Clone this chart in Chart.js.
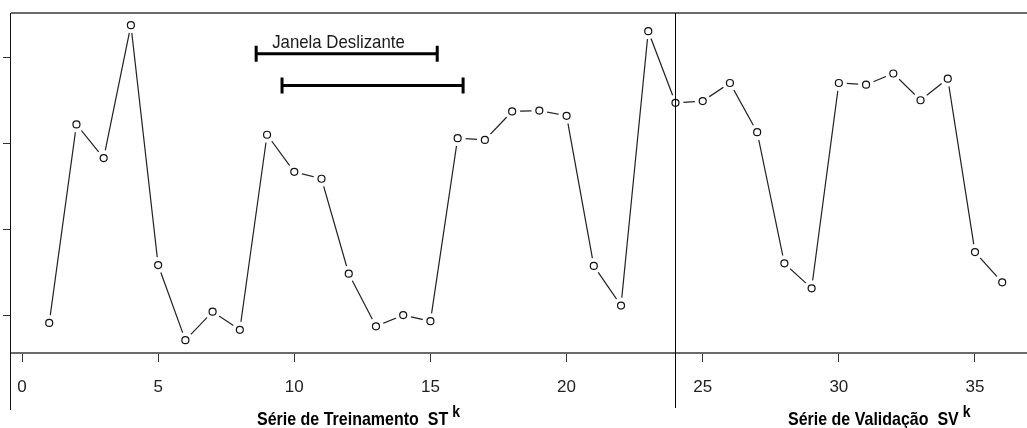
<!DOCTYPE html>
<html>
<head>
<meta charset="utf-8">
<script src="https://cdn.jsdelivr.net/npm/chart.js@4.4.0/dist/chart.umd.min.js"></script>
<style>
html,body{margin:0;padding:0;background:#fff;}
#wrap{width:1027px;height:428px;position:relative;}
canvas{display:block;}
</style>
</head>
<body>
<div id="wrap"><canvas id="c" width="1027" height="428"></canvas></div>
<script>
// ---- data ----
const indices = [1,2,3,4,5,6,7,8,9,10,11,12,13,14,15,16,17,18,19,20,21,22,23,24,25,26,27,28,29,30,31,32,33,34,35,36];
const values = [0.92,3.22,2.83,4.37,1.59,0.72,1.05,0.84,3.10,2.67,2.59,1.49,0.88,1.01,0.94,3.06,3.04,3.37,3.38,3.32,1.58,1.12,4.30,3.47,3.49,3.70,3.13,1.61,1.32,3.70,3.68,3.81,3.50,3.75,1.74,1.39];
const xTickValues = [0,5,10,15,20,25,30,35];
const yTickValues = [1,2,3,4];
const splitIndex = 24;
const windowStarts = [8.6, 9.55];
const windowEnds = [15.25, 16.2];
const windowLevels = [4.04, 3.67];
const windowLabel = 'Janela Deslizante';
const trainTitle = 'Série de Treinamento  ST';
const validTitle = 'Série de Validação  SV';
const supText = 'k';

const pts = indices.map((x,i)=>({x:x, y:values[i]}));

const deco = {
  id:'deco',
  afterDatasetsDraw(chart){
    const {ctx, chartArea:a, scales:{x,y}} = chart;
    ctx.save();
    // top border
    ctx.strokeStyle='#6a6a6a'; ctx.lineWidth=2;
    ctx.beginPath(); ctx.moveTo(a.left, a.top); ctx.lineTo(a.right, a.top); ctx.stroke();
    // left axis line extended below
    ctx.strokeStyle='#111'; ctx.lineWidth=1;
    ctx.beginPath(); ctx.moveTo(a.left-0.5, a.top); ctx.lineTo(a.left-0.5, 410); ctx.stroke();
    // split line
    const sx = Math.round(x.getPixelForValue(splitIndex))+0.5;
    ctx.strokeStyle='#000'; ctx.lineWidth=1;
    ctx.beginPath(); ctx.moveTo(sx, a.top); ctx.lineTo(sx, 408); ctx.stroke();
    // sliding windows
    ctx.strokeStyle='#000'; ctx.lineWidth=3; ctx.lineCap='butt';
    windowStarts.forEach((s,i)=>{
      const x1=x.getPixelForValue(s), x2=x.getPixelForValue(windowEnds[i]);
      const yy=y.getPixelForValue(windowLevels[i]);
      ctx.beginPath();
      ctx.moveTo(x1,yy); ctx.lineTo(x2,yy);
      ctx.moveTo(x1,yy-8); ctx.lineTo(x1,yy+8);
      ctx.moveTo(x2,yy-8); ctx.lineTo(x2,yy+8);
      ctx.stroke();
    });
    // window label
    const lx = x.getPixelForValue(windowStarts[0]) + 16;
    const ly = y.getPixelForValue(windowLevels[0]) - 6;
    ctx.fillStyle='#1a1a1a';
    ctx.textBaseline='alphabetic'; ctx.textAlign='left';
    ctx.save(); ctx.translate(lx, ly); ctx.scale(1.05,1.2);
    ctx.font='16px "Liberation Sans", Arial, sans-serif';
    ctx.fillText(windowLabel, 0, 0);
    ctx.restore();
    // axis titles
    const drawTitle=(t, tx)=>{
      ctx.save(); ctx.translate(tx, 425); ctx.scale(1,1.18);
      ctx.font='bold 16px "Liberation Sans", Arial, sans-serif';
      ctx.fillStyle='#000';
      ctx.fillText(t,0,0);
      const w=ctx.measureText(t).width;
      ctx.font='bold 14px "Liberation Sans", Arial, sans-serif';
      ctx.fillText(supText, w+4, -7);
      ctx.restore();
    };
    drawTitle(trainTitle, 257);
    drawTitle(validTitle, 788);
    ctx.restore();
  }
};

new Chart(document.getElementById('c'), {
  type:'line',
  data:{
    datasets:[
      { data:pts, showLine:false, pointRadius:3.5, pointBorderWidth:1.2, pointBorderColor:'#111', pointBackgroundColor:'#fff', pointStyle:'circle' },
      { data:pts, showLine:false, pointRadius:8, pointBorderWidth:0, pointBorderColor:'rgba(0,0,0,0)', pointBackgroundColor:'#ffffff' },
      { data:pts, showLine:true, pointRadius:0, borderColor:'#222', borderWidth:1.2, tension:0, fill:false }
    ]
  },
  plugins:[deco],
  options:{
    responsive:false,
    animation:false,
    devicePixelRatio:1,
    layout:{autoPadding:false, padding:{left:3, top:13, right:0, bottom:15.6}},
    plugins:{legend:{display:false}, tooltip:{enabled:false}},
    elements:{point:{hoverRadius:3.5}},
    scales:{
      x:{
        type:'linear', min:-0.404, max:36.91,
        afterBuildTicks:(s)=>{ s.ticks = xTickValues.map(v=>({value:v})); },
        grid:{drawOnChartArea:false, drawTicks:true, tickLength:9, color:'#333', lineWidth:1},
        border:{display:true, color:'#6a6a6a', width:2},
        ticks:{padding:15, color:'#222', font:{family:'"Liberation Sans", Arial, sans-serif', size:17}, maxRotation:0, autoSkip:false}
      },
      y:{
        type:'linear', min:0.571, max:4.511,
        afterBuildTicks:(s)=>{ s.ticks = yTickValues.map(v=>({value:v})); },
        grid:{drawOnChartArea:false, drawTicks:true, tickLength:8, color:'#333', lineWidth:1},
        border:{display:false},
        ticks:{display:false}
      }
    }
  }
});
</script>
</body>
</html>
